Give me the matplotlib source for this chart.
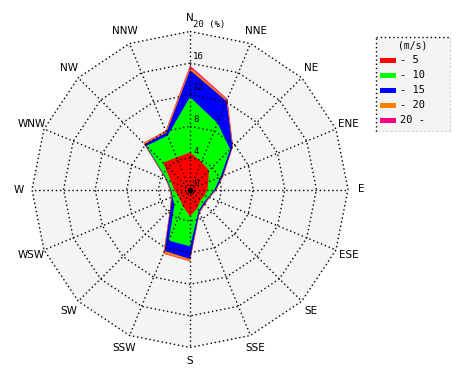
import numpy as np
import matplotlib
matplotlib.use('Agg')
import matplotlib.pyplot as plt
from matplotlib.patches import Rectangle

# Wind rose data: frequency (%) per direction for each speed class
directions = ['N', 'NNE', 'NE', 'ENE', 'E', 'ESE', 'SE', 'SSE',
              'S', 'SSW', 'SW', 'WSW', 'W', 'WNW', 'NW', 'NNW']
speed_labels = ['- 5', '- 10', '- 15', '- 20', '20 -']
speed_colors = ['#ff0000', '#00ff00', '#0000ff', '#ff8000', '#ff0080']

freq_0_5 = [4.7, 3.8, 3.4, 2.5, 2.2, 2.0, 1.9, 2.5, 3.4, 2.3, 1.8, 1.7, 2.0, 2.6, 4.8, 4.4]
freq_5_10 = [7.0, 5.3, 3.8, 1.7, 0.9, 0.5, 0.5, 0.4, 3.8, 4.7, 1.0, 0.7, 0.4, 0.5, 3.0, 3.0]
freq_10_15 = [3.4, 3.0, 0.4, 0.3, 0.2, 0.1, 0.2, 0.2, 1.6, 1.4, 0.7, 0.1, 0.1, 0.1, 0.3, 0.4]
freq_15_20 = [0.4, 0.2, 0.1, 0.1, 0.1, 0.1, 0.1, 0.1, 0.25, 0.35, 0.1, 0.1, 0.1, 0.1, 0.2, 0.2]
freq_20_up = [0.2, 0.1, 0.0, 0.0, 0.0, 0.0, 0.0, 0.0, 0.05, 0.05, 0.0, 0.0, 0.0, 0.0, 0.05, 0.05]

ring_values = [4, 8, 12, 16, 20]
r_max = 20

# cumulative values so each class is drawn on top of the next one
freqs = np.array([freq_0_5, freq_5_10, freq_10_15, freq_15_20, freq_20_up])
cum = np.cumsum(freqs, axis=0)

theta = np.deg2rad(np.arange(len(directions)) * 360.0 / len(directions))
sin_t, cos_t = np.sin(theta), np.cos(theta)


def closed(a):
    return np.append(a, a[0])


fig = plt.figure(figsize=(4.7, 3.8), dpi=100)
ax = fig.add_axes([20 / 470, (380 - 189.5 - 170) / 380, 340 / 470, 340 / 380])
lim = 170 / 158 * r_max
ax.set_xlim(-lim, lim)
ax.set_ylim(-lim, lim)
ax.set_aspect('equal')
ax.axis('off')

# background of the rose
ax.fill(closed(r_max * sin_t), closed(r_max * cos_t), color='#f4f4f4', zorder=0)

# stacked classes, largest (cumulative) first
for i in range(len(speed_labels) - 1, -1, -1):
    r = cum[i]
    ax.fill(closed(r * sin_t), closed(r * cos_t), color=speed_colors[i],
            linewidth=0, zorder=1 + (len(speed_labels) - i))

# polygon rings and spokes
dot = (0, (1, 2))
for rv in ring_values:
    ax.plot(closed(rv * sin_t), closed(rv * cos_t), color='black',
            linestyle=dot, linewidth=1, zorder=10)
for s, c in zip(sin_t, cos_t):
    ax.plot([0, r_max * s], [0, r_max * c], color='black',
            linestyle=dot, linewidth=1, zorder=10)
ax.plot([0], [0], marker='o', markersize=3, color='black', zorder=11)

# ring labels along the north spoke
mono = 'DejaVu Sans Mono'
ax.text(0.4, 0.2, '0', fontsize=6.5, family=mono, ha='left', va='bottom', zorder=12)
for rv in ring_values:
    label = f'{rv} (%)' if rv == r_max else f'{rv}'
    ax.text(0.4, rv + 0.3, label, fontsize=6.5, family=mono,
            ha='left', va='bottom', zorder=12)

# direction labels
r_lab = 21.7
for name, s, c in zip(directions, sin_t, cos_t):
    ax.text(r_lab * s, r_lab * c, name, fontsize=7.5, ha='center', va='center')

# legend box
lg = fig.add_axes([375 / 470, (380 - 132) / 380, 76 / 470, 96 / 380])
lg.set_xlim(0, 76)
lg.set_ylim(96, 0)
lg.axis('off')
lg.add_patch(Rectangle((0.5, 0.5), 75, 95, facecolor='#f4f4f4', edgecolor='black',
                       linestyle=dot, linewidth=1))
lg.text(38, 9, '(m/s)', fontsize=7, family=mono, ha='center', va='center')
for k, (lab, col) in enumerate(zip(speed_labels, speed_colors)):
    y = 24 + 15 * k
    lg.add_patch(Rectangle((5, y - 2.5), 16, 5, facecolor=col, edgecolor='none'))
    lg.text(25, y, lab, fontsize=7.5, family=mono, ha='left', va='center')

fig.savefig('out.png', dpi=100)
